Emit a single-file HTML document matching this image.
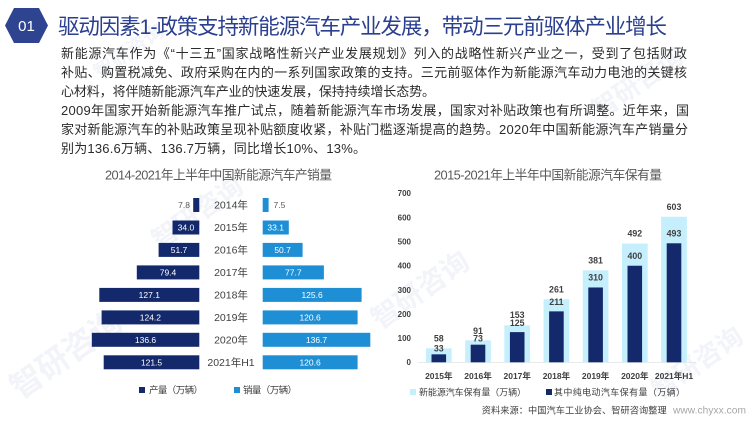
<!DOCTYPE html>
<html><head><meta charset="utf-8">
<style>
*{margin:0;padding:0;box-sizing:border-box}
html,body{width:750px;height:421px;background:#fff;overflow:hidden}
body{position:relative;font-family:"Liberation Sans","Noto Sans CJK SC",sans-serif}
svg{position:absolute;left:0;top:0}
</style></head><body>
<!-- watermark -->
<svg width="750" height="421">
<g fill="#f2f4f9" font-family="Noto Sans CJK SC, sans-serif" font-weight="bold">
<text x="20" y="400" font-size="32" transform="rotate(-35 20 400)">智研咨询</text>
<text x="380" y="330" font-size="28" transform="rotate(-35 380 330)">智研咨询</text>
<text x="160" y="250" font-size="26" transform="rotate(-35 160 250)">智研咨询</text>
<text x="600" y="120" font-size="26" transform="rotate(-35 600 120)">智研咨询</text>
<text x="660" y="400" font-size="26" transform="rotate(-35 660 400)">智研咨询</text>
<text x="100" y="80" font-size="20" transform="rotate(-35 100 80)">智研咨询</text>
</g>
</svg>

<svg width="750" height="421" font-family="Liberation Sans, Noto Sans CJK SC, sans-serif">
<polygon points="5,25.5 14,8 39,8 48,25.5 39,43 14,43" fill="#2e4490"/>
<text x="26.5" y="31" font-size="15" fill="#fff" text-anchor="middle" font-family="Liberation Sans, sans-serif">01</text>
<text x="58" y="34" font-size="21.5" fill="#2a3f8f" textLength="609" lengthAdjust="spacing">驱动因素1-政策支持新能源汽车产业发展，带动三元前驱体产业增长</text>

<g font-size="13" fill="#2b2b2b">
<text x="61" y="58" textLength="626" lengthAdjust="spacing">新能源汽车作为《“十三五”国家战略性新兴产业发展规划》列入的战略性新兴产业之一，受到了包括财政</text>
<text x="61" y="77" textLength="626" lengthAdjust="spacing">补贴、购置税减免、政府采购在内的一系列国家政策的支持。三元前驱体作为新能源汽车动力电池的关键核</text>
<text x="61" y="96" textLength="374" lengthAdjust="spacing">心材料，将伴随新能源汽车产业的快速发展，保持持续增长态势。</text>
<text x="61" y="115" textLength="628" lengthAdjust="spacing">2009年国家开始新能源汽车推广试点，随着新能源汽车市场发展，国家对补贴政策也有所调整。近年来，国</text>
<text x="61" y="134" textLength="627" lengthAdjust="spacing">家对新能源汽车的补贴政策呈现补贴额度收紧，补贴门槛逐渐提高的趋势。2020年中国新能源汽车产销量分</text>
<text x="61" y="153" textLength="305" lengthAdjust="spacing">别为136.6万辆、136.7万辆，同比增长10%、13%。</text>
</g>

<!-- left chart -->
<text x="105" y="179.5" font-size="12.8" fill="#595959" textLength="227" lengthAdjust="spacing">2014-2021年上半年中国新能源汽车产销量</text>
<g fill="#13296b">
<rect x="193.2" y="198" width="6.1" height="14"/>
<rect x="172.5" y="220.5" width="26.8" height="14"/>
<rect x="158.6" y="242.9" width="40.7" height="14"/>
<rect x="136.8" y="265.4" width="62.5" height="14"/>
<rect x="99.3" y="287.9" width="100" height="14"/>
<rect x="101.6" y="310.4" width="97.7" height="14"/>
<rect x="91.8" y="332.8" width="107.5" height="14"/>
<rect x="103.7" y="355.3" width="95.6" height="14"/>
</g>
<g fill="#1e8fd5">
<rect x="262.7" y="198" width="5.9" height="14"/>
<rect x="262.7" y="220.5" width="26.1" height="14"/>
<rect x="262.7" y="242.9" width="39.9" height="14"/>
<rect x="262.7" y="265.4" width="61.2" height="14"/>
<rect x="262.7" y="287.9" width="98.9" height="14"/>
<rect x="262.7" y="310.4" width="94.9" height="14"/>
<rect x="262.7" y="332.8" width="107.6" height="14"/>
<rect x="262.7" y="355.3" width="94.9" height="14"/>
</g>
<g font-size="10.5" fill="#404040" text-anchor="middle">
<text x="231" y="208.7">2014年</text>
<text x="231" y="231.2">2015年</text>
<text x="231" y="253.6">2016年</text>
<text x="231" y="276.1">2017年</text>
<text x="231" y="298.6">2018年</text>
<text x="231" y="321.1">2019年</text>
<text x="231" y="343.5">2020年</text>
<text x="231" y="366">2021年H1</text>
</g>
<g font-size="8.5" text-anchor="middle" fill="#fff">
<text x="190" y="208" fill="#595959" text-anchor="end">7.8</text>
<text x="185.9" y="230.5">34.0</text>
<text x="179" y="253">51.7</text>
<text x="168" y="275.4">79.4</text>
<text x="149.3" y="297.9">127.1</text>
<text x="150.4" y="320.4">124.2</text>
<text x="145.5" y="342.8">136.6</text>
<text x="151.5" y="365.3">121.5</text>
<text x="273.5" y="208" fill="#595959" text-anchor="start">7.5</text>
<text x="275.7" y="230.5">33.1</text>
<text x="282.6" y="253">50.7</text>
<text x="293.3" y="275.4">77.7</text>
<text x="312.1" y="297.9">125.6</text>
<text x="310.1" y="320.4">120.6</text>
<text x="316.5" y="342.8">136.7</text>
<text x="310.1" y="365.3">120.6</text>
</g>
<rect x="139" y="387" width="6" height="6" fill="#13296b"/>
<text x="149" y="393.3" font-size="9.5" fill="#404040" textLength="54" lengthAdjust="spacing">产量（万辆）</text>
<rect x="234" y="387" width="6" height="6" fill="#1e8fd5"/>
<text x="243" y="393.3" font-size="9.5" fill="#404040" textLength="54" lengthAdjust="spacing">销量（万辆）</text>

<!-- right chart -->
<text x="434" y="179.5" font-size="12.8" fill="#595959" textLength="228" lengthAdjust="spacing">2015-2021年上半年中国新能源汽车保有量</text>
<g font-size="8" font-weight="bold" fill="#404040" text-anchor="end">
<text x="411" y="365.2">0</text>
<text x="411" y="341.1">100</text>
<text x="411" y="317">200</text>
<text x="411" y="292.8">300</text>
<text x="411" y="268.7">400</text>
<text x="411" y="244.5">500</text>
<text x="411" y="220.4">600</text>
<text x="411" y="196.2">700</text>
</g>
<line x1="418" y1="362.5" x2="696" y2="362.5" stroke="#e3e3e3" stroke-width="0.8"/>
<g fill="#c6effd">
<rect x="425.95" y="348.3" width="25.7" height="14"/>
<rect x="465.15" y="340.33" width="25.7" height="21.97"/>
<rect x="504.35" y="325.37" width="25.7" height="36.93"/>
<rect x="543.55" y="299.3" width="25.7" height="63"/>
<rect x="582.75" y="270.33" width="25.7" height="91.97"/>
<rect x="621.95" y="243.53" width="25.7" height="118.77"/>
<rect x="661.15" y="216.74" width="25.7" height="145.56"/>
</g>
<g fill="#13296b">
<rect x="431.5" y="354.33" width="14.6" height="7.97"/>
<rect x="470.7" y="344.68" width="14.6" height="17.62"/>
<rect x="509.9" y="332.12" width="14.6" height="30.18"/>
<rect x="549.1" y="311.36" width="14.6" height="50.94"/>
<rect x="588.3" y="287.47" width="14.6" height="74.83"/>
<rect x="627.5" y="265.74" width="14.6" height="96.56"/>
<rect x="666.7" y="243.29" width="14.6" height="119.01"/>
</g>
<g font-size="8.8" font-weight="bold" fill="#404040" text-anchor="middle">
<text x="438.8" y="341.5">58</text>
<text x="438.8" y="351.5">33</text>
<text x="478" y="333.9">91</text>
<text x="478" y="341.5">73</text>
<text x="517.2" y="318.2">153</text>
<text x="517.2" y="325.9">125</text>
<text x="556.4" y="292.5">261</text>
<text x="556.4" y="304.9">211</text>
<text x="595.6" y="263.5">381</text>
<text x="595.6" y="280.5">310</text>
<text x="634.8" y="236.7">492</text>
<text x="634.8" y="259">400</text>
<text x="674" y="209.9">603</text>
<text x="674" y="236.5">493</text>
</g>
<g font-size="8.5" font-weight="bold" fill="#404040" text-anchor="middle">
<text x="438.8" y="378.8">2015年</text>
<text x="478" y="378.8">2016年</text>
<text x="517.2" y="378.8">2017年</text>
<text x="556.4" y="378.8">2018年</text>
<text x="595.6" y="378.8">2019年</text>
<text x="634.8" y="378.8">2020年</text>
<text x="674" y="378.8">2021年H1</text>
</g>
<rect x="410" y="389" width="6" height="6" fill="#c6effd"/>
<text x="419" y="395.5" font-size="9" fill="#404040" textLength="107" lengthAdjust="spacing">新能源汽车保有量（万辆）</text>
<rect x="546" y="389" width="6" height="6" fill="#13296b"/>
<text x="554" y="395.5" font-size="9" fill="#404040" textLength="131" lengthAdjust="spacing">其中纯电动汽车保有量（万辆）</text>
<text x="481.7" y="413.3" font-size="9.2" fill="#404040" textLength="185" lengthAdjust="spacing">资料来源：中国汽车工业协会、智研咨询整理</text>
<text x="673" y="413.3" font-size="10.2" fill="#a6a6a6" textLength="73" lengthAdjust="spacing">www.chyxx.com</text>
</svg>
</body></html>
